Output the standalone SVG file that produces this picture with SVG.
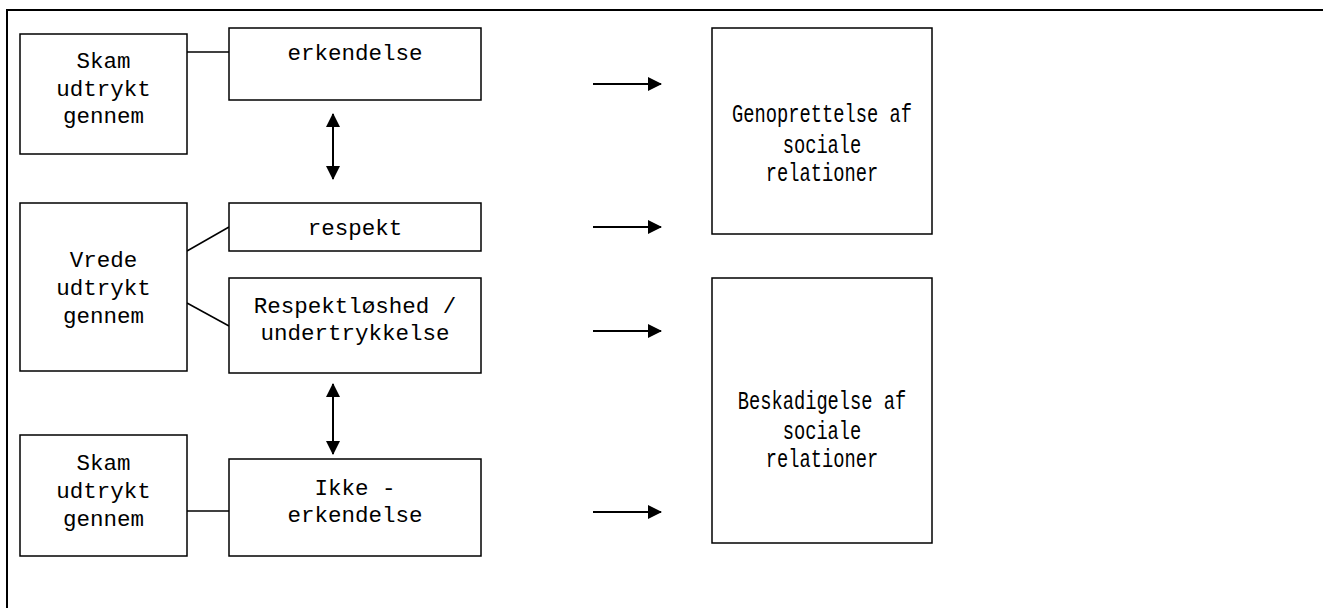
<svg xmlns="http://www.w3.org/2000/svg" width="1323" height="608" viewBox="0 0 1323 608">
<style>
.box{fill:#fff;stroke:#000;stroke-width:1.5}
.t{font-family:"Liberation Mono","Courier New",monospace;font-size:22.5px;fill:#000;text-anchor:middle}
.tr{font-family:"Liberation Mono","Courier New",monospace;font-size:25.5px;fill:#000;text-anchor:middle}
.ln{stroke:#000;stroke-width:1.5;fill:none}
.ar{stroke:#000;stroke-width:2;fill:none}
</style>
<defs>
<marker id="ah" markerWidth="10" markerHeight="10" refX="9" refY="5" orient="auto-start-reverse" markerUnits="userSpaceOnUse" viewBox="0 0 10 10">
<path d="M0,0 L10,5 L0,10 Z" fill="#000"/>
</marker>
<marker id="ah2" markerWidth="14" markerHeight="14" refX="13" refY="7" orient="auto-start-reverse" markerUnits="userSpaceOnUse" viewBox="0 0 14 14">
<path d="M0,0 L14,7 L0,14 Z" fill="#000"/>
</marker>
</defs>
<rect width="1323" height="608" fill="#fff"/>
<g id="frame">
<line x1="7" y1="10" x2="1323" y2="10" stroke="#000" stroke-width="2"/>
<line x1="7" y1="9" x2="7" y2="608" stroke="#000" stroke-width="2"/>
</g>
<g id="connectors">
<line class="ln" x1="187" y1="52" x2="229" y2="52"/>
<line class="ln" x1="187" y1="251" x2="229" y2="227"/>
<line class="ln" x1="187" y1="303" x2="229" y2="326"/>
<line class="ln" x1="187" y1="511" x2="229" y2="511"/>
<line class="ar" x1="333" y1="114" x2="333" y2="179" marker-start="url(#ah2)" marker-end="url(#ah2)"/>
<line class="ar" x1="333" y1="384" x2="333" y2="454" marker-start="url(#ah2)" marker-end="url(#ah2)"/>
<line class="ar" x1="593" y1="84" x2="661" y2="84" marker-end="url(#ah2)"/>
<line class="ar" x1="593" y1="227" x2="661" y2="227" marker-end="url(#ah2)"/>
<line class="ar" x1="593" y1="331" x2="661" y2="331" marker-end="url(#ah2)"/>
<line class="ar" x1="593" y1="512" x2="661" y2="512" marker-end="url(#ah2)"/>
</g>
<g id="skam1">
<rect class="box" x="20" y="34" width="167" height="120"/>
<text class="t" x="103.5" y="68">Skam</text>
<text class="t" x="103.5" y="96">udtrykt</text>
<text class="t" x="103.5" y="123">gennem</text>
</g>
<g id="erkendelse">
<rect class="box" x="229" y="28" width="252" height="72"/>
<text class="t" x="355" y="60">erkendelse</text>
</g>
<g id="vrede">
<rect class="box" x="20" y="203" width="167" height="168"/>
<text class="t" x="103.5" y="267">Vrede</text>
<text class="t" x="103.5" y="295">udtrykt</text>
<text class="t" x="103.5" y="323">gennem</text>
</g>
<g id="respekt">
<rect class="box" x="229" y="203" width="252" height="48"/>
<text class="t" x="355" y="235">respekt</text>
</g>
<g id="respektloshed">
<rect class="box" x="229" y="278" width="252" height="95"/>
<text class="t" x="355" y="313">Respektløshed /</text>
<text class="t" x="355" y="340">undertrykkelse</text>
</g>
<g id="skam2">
<rect class="box" x="20" y="435" width="167" height="121"/>
<text class="t" x="103.5" y="470">Skam</text>
<text class="t" x="103.5" y="498">udtrykt</text>
<text class="t" x="103.5" y="526">gennem</text>
</g>
<g id="ikke">
<rect class="box" x="229" y="459" width="252" height="97"/>
<text class="t" x="355" y="495">Ikke -</text>
<text class="t" x="355" y="522">erkendelse</text>
</g>
<g id="genoprettelse">
<rect class="box" x="712" y="28" width="220" height="206"/>
<g transform="translate(822,0) scale(0.735,1)">
<text class="tr" x="0" y="122">Genoprettelse af</text>
<text class="tr" x="0" y="153">sociale</text>
<text class="tr" x="0" y="181">relationer</text>
</g>
</g>
<g id="beskadigelse">
<rect class="box" x="712" y="278" width="220" height="265"/>
<g transform="translate(822,0) scale(0.735,1)">
<text class="tr" x="0" y="409">Beskadigelse af</text>
<text class="tr" x="0" y="439">sociale</text>
<text class="tr" x="0" y="467">relationer</text>
</g>
</g>
</svg>
